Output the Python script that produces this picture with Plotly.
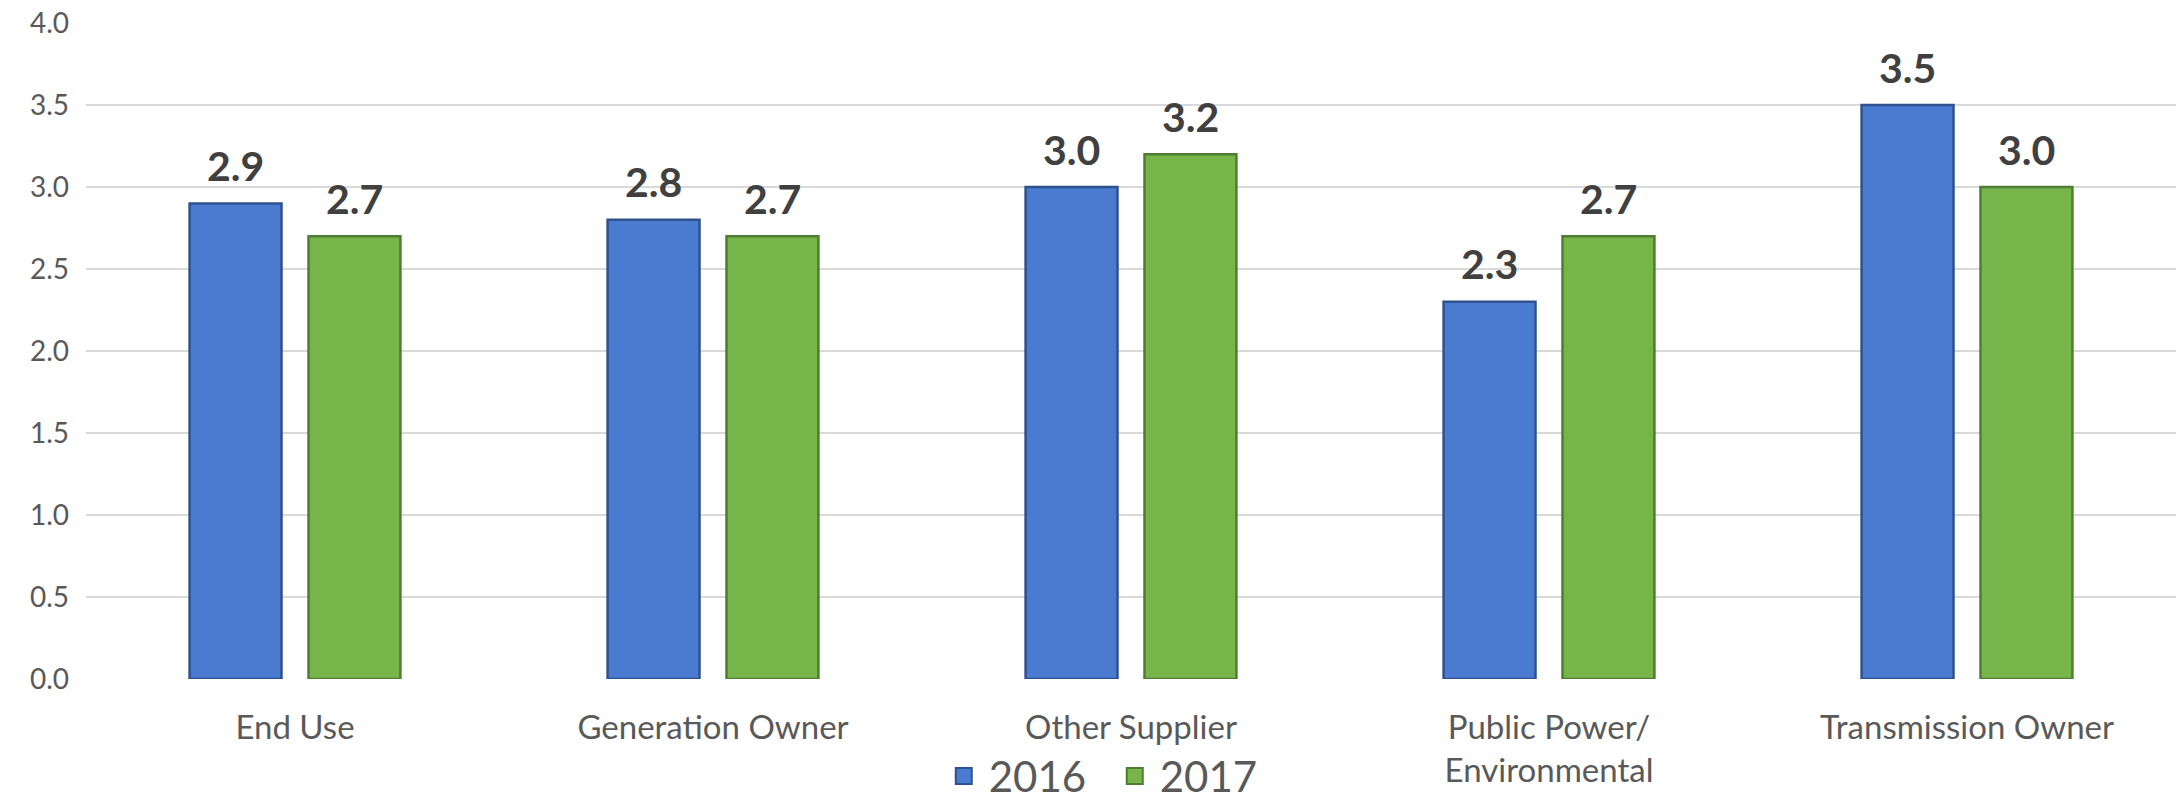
import plotly.graph_objects as go

categories = ["End Use", "Generation Owner", "Other Supplier", "Public Power/<br>Environmental", "Transmission Owner"]
series_names = ["2016", "2017"]
values_2016 = [2.9, 2.8, 3.0, 2.3, 3.5]
values_2017 = [2.7, 2.7, 3.2, 2.7, 3.0]
y_ticks = [0.0, 0.5, 1.0, 1.5, 2.0, 2.5, 3.0, 3.5, 4.0]

fill_colors = ["#4a7bd0", "#77b54b"]
edge_colors = ["#2f528f", "#4f7d33"]

fig = go.Figure()
for name, vals, fc, ec in zip(series_names, [values_2016, values_2017], fill_colors, edge_colors):
    fig.add_trace(go.Bar(
        x=categories, y=vals, name=name, legendgroup=name, showlegend=False,
        marker=dict(color=fc, line=dict(color=ec, width=2.5)),
        hoverinfo="x+y",
    ))
# legend entries with larger square swatches
for name, fc, ec in zip(series_names, fill_colors, edge_colors):
    fig.add_trace(go.Scatter(
        x=[None], y=[None], name=name, legendgroup=name, mode="markers",
        marker=dict(symbol="square", size=24, color=fc, line=dict(color=ec, width=2)),
        showlegend=True,
    ))

# value labels above bars
slot_half = 59.5
for i, vals in enumerate([values_2016, values_2017]):
    shift = -slot_half if i == 0 else slot_half
    for c, v in zip(categories, vals):
        fig.add_annotation(
            x=c, y=v, text=f"{v:.1f}", showarrow=False,
            xshift=shift, yshift=38, yanchor="middle",
            font=dict(family="Lato", size=41, color="#404040", weight="bold"),
        )

fig.update_layout(
    width=2176, height=801,
    margin=dict(l=86, r=0, t=23, b=122, autoexpand=False),
    paper_bgcolor="white", plot_bgcolor="white",
    barmode="group", bargap=0.431, bargroupgap=0.227,
    font=dict(family="Lato", color="#595959"),
    showlegend=True,
    legend=dict(
        orientation="h", xref="container", yref="paper",
        x=0.51, xanchor="center", y=-0.148, yanchor="middle",
        font=dict(family="Lato", size=42, color="#595959"),
        bgcolor="rgba(0,0,0,0)", borderwidth=0,
        tracegroupgap=0, itemwidth=40, itemsizing="trace",
        entrywidth=116,
    ),
)
fig.update_yaxes(
    range=[0, 4], tickvals=y_ticks, tickformat=".1f",
    showgrid=True, gridcolor="#d9d9d9", gridwidth=2,
    zeroline=False, showline=False,
    tickfont=dict(family="Lato", size=28, color="#595959"),
    ticklabelstandoff=16,
)
fig.update_xaxes(
    showgrid=False, showline=False,
    tickfont=dict(family="Lato", size=33, color="#595959"),
    ticklabelstandoff=26,
)

fig.write_html("out.html", config={"displayModeBar": False},
               post_script="document.body.style.margin='0px';")
